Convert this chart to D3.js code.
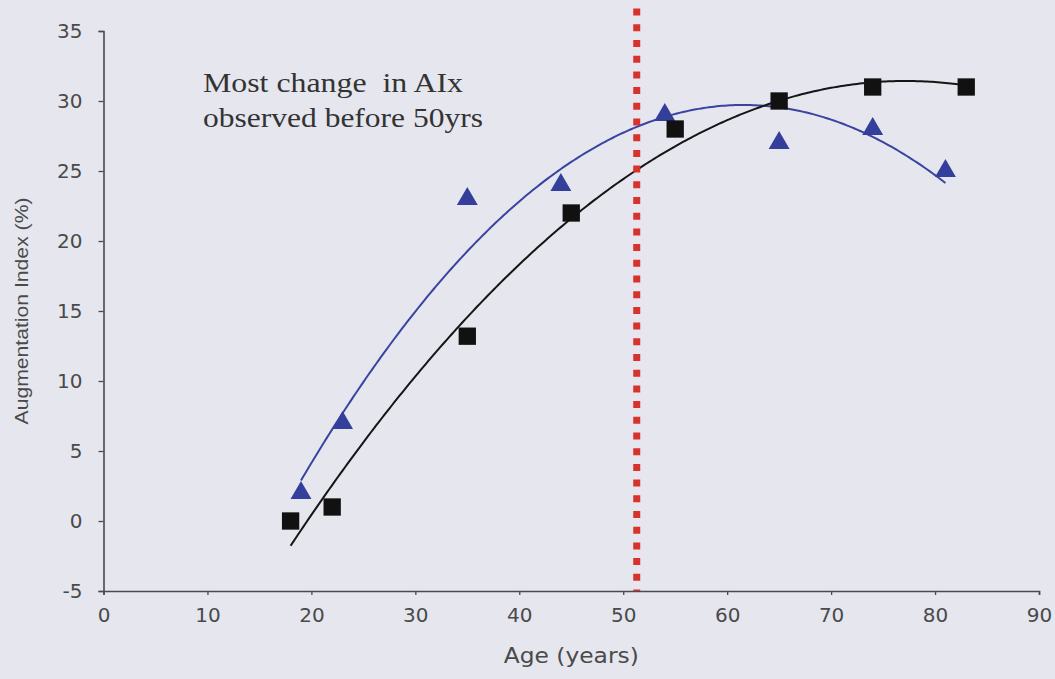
<!DOCTYPE html>
<html>
<head>
<meta charset="utf-8">
<script src="https://cdn.jsdelivr.net/npm/d3@7"></script>
<style>
  html, body { margin: 0; padding: 0; background: #e5e6ee; }
  svg { display: block; }
</style>
</head>
<body>
<svg id="chart" width="1055" height="679"></svg>
<script>
// Age (years) and Augmentation Index (%) for the two groups
const squareAges   = [18, 22, 35, 45, 55, 65, 74, 83];
const squareAIx    = [0, 1, 13.2, 22, 28, 30, 31, 31];
const triangleAges = [19, 23, 35, 44, 54, 65, 74, 81];
const triangleAIx  = [2, 7, 23, 24, 29, 27, 28, 25];

const xTicks = [0, 10, 20, 30, 40, 50, 60, 70, 80, 90];
const yTicks = [-5, 0, 5, 10, 15, 20, 25, 30, 35];

// Age marking the vertical reference line and its top end
const cutoffAge = 51.3;
const cutoffTop = 36.6;

const noteLines = ["Most change  in AIx", "observed before 50yrs"];

const svg = d3.select("#chart");
const x = d3.scaleLinear().domain([0, 90]).range([103.5, 1039]);
const y = d3.scaleLinear().domain([-5, 35]).range([591, 31]);

// Least-squares quadratic trend fitted to a series
function quadFit(xs, ys) {
  const n = xs.length;
  const s = [0, 0, 0, 0, 0], t = [0, 0, 0];
  for (let i = 0; i < n; i++) {
    const xi = xs[i], yi = ys[i];
    for (let k = 0; k < 5; k++) s[k] += Math.pow(xi, k);
    for (let k = 0; k < 3; k++) t[k] += Math.pow(xi, k) * yi;
  }
  const M = [
    [s[0], s[1], s[2], t[0]],
    [s[1], s[2], s[3], t[1]],
    [s[2], s[3], s[4], t[2]]
  ];
  for (let c = 0; c < 3; c++) {
    for (let r = c + 1; r < 3; r++) {
      const f = M[r][c] / M[c][c];
      for (let k = c; k < 4; k++) M[r][k] -= f * M[c][k];
    }
  }
  const b = [0, 0, 0];
  for (let r = 2; r >= 0; r--) {
    let v = M[r][3];
    for (let k = r + 1; k < 3; k++) v -= M[r][k] * b[k];
    b[r] = v / M[r][r];
  }
  return xv => b[0] + b[1] * xv + b[2] * xv * xv;
}

function trendPoints(xs, ys) {
  const f = quadFit(xs, ys);
  const lo = d3.min(xs), hi = d3.max(xs);
  return d3.range(lo, hi + 0.001, 0.25).map(a => [a, f(a)]);
}

const line = d3.line().x(d => x(d[0])).y(d => y(d[1]));

// Axes
const axisColor = "#4a4a55";
const plainNumber = d => String(d);
const xAxis = svg.append("g")
  .attr("transform", `translate(0,${y(-5)})`)
  .call(d3.axisBottom(x).tickValues(xTicks).tickSize(4).tickPadding(13).tickFormat(plainNumber));
const yAxis = svg.append("g")
  .attr("transform", `translate(${x(0)},0)`)
  .call(d3.axisLeft(y).tickValues(yTicks).tickSize(5).tickPadding(16).tickFormat(plainNumber));

[xAxis, yAxis].forEach(g => {
  g.select(".domain").attr("stroke", axisColor).attr("stroke-width", 1.6);
  g.selectAll(".tick line").attr("stroke", axisColor).attr("stroke-width", 1.3);
  g.selectAll(".tick text")
    .attr("fill", "#4a4a4a")
    .style("font-family", "'DejaVu Sans', sans-serif")
    .style("font-size", "20px");
});

// Axis titles
svg.append("text")
  .attr("x", (x(0) + x(90)) / 2)
  .attr("y", 663)
  .attr("text-anchor", "middle")
  .attr("fill", "#4a4a4a")
  .attr("textLength", 135)
  .attr("lengthAdjust", "spacingAndGlyphs")
  .style("font-family", "'DejaVu Sans', sans-serif")
  .style("font-size", "21px")
  .text("Age (years)");

svg.append("text")
  .attr("transform", `translate(28,${(y(-5) + y(35)) / 2}) rotate(-90)`)
  .attr("text-anchor", "middle")
  .attr("fill", "#4a4a4a")
  .attr("textLength", 227)
  .attr("lengthAdjust", "spacingAndGlyphs")
  .style("font-family", "'Liberation Sans', Arial, sans-serif")
  .style("font-size", "19px")
  .text("Augmentation Index (%)");

// Trend lines
svg.append("path")
  .datum(trendPoints(triangleAges, triangleAIx))
  .attr("fill", "none")
  .attr("stroke", "#3a44a0")
  .attr("stroke-width", 2)
  .attr("d", line);

svg.append("path")
  .datum(trendPoints(squareAges, squareAIx))
  .attr("fill", "none")
  .attr("stroke", "#151515")
  .attr("stroke-width", 2)
  .attr("d", line);

// Markers
const tri = d3.symbol().type(d3.symbolTriangle).size(190);
svg.append("g").selectAll("path")
  .data(triangleAges.map((a, i) => [a, triangleAIx[i]]))
  .join("path")
  .attr("transform", d => `translate(${x(d[0])},${y(d[1])})`)
  .attr("d", tri)
  .attr("fill", "#343f9c");

const sq = d3.symbol().type(d3.symbolSquare).size(300);
svg.append("g").selectAll("path")
  .data(squareAges.map((a, i) => [a, squareAIx[i]]))
  .join("path")
  .attr("transform", d => `translate(${x(d[0])},${y(d[1])})`)
  .attr("d", sq)
  .attr("fill", "#111");

// Vertical dotted reference line
svg.append("line")
  .attr("x1", x(cutoffAge)).attr("x2", x(cutoffAge))
  .attr("y1", y(cutoffTop)).attr("y2", y(-5))
  .attr("stroke", "#d8322e")
  .attr("stroke-width", 7)
  .attr("stroke-dasharray", "7 8.7");

// Annotation
const noteWidths = [260, 280];
const note = svg.append("text")
  .attr("fill", "#333")
  .style("font-family", "'Liberation Serif', 'Times New Roman', serif")
  .style("font-size", "27px");
noteLines.forEach((t, i) => {
  note.append("tspan")
    .attr("x", 203)
    .attr("y", 92 + i * 35)
    .attr("textLength", noteWidths[i])
    .attr("lengthAdjust", "spacingAndGlyphs")
    .style("white-space", "pre")
    .text(t);
});
</script>
</body>
</html>
